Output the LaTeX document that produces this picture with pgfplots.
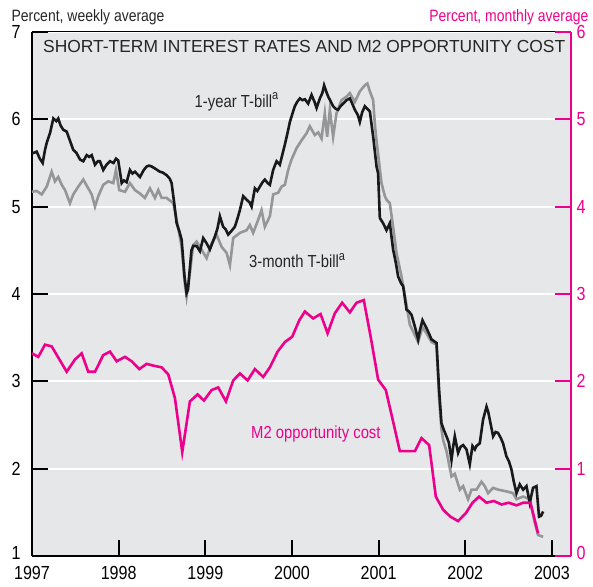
\documentclass[border=0pt]{standalone}
\usepackage{fontspec}
\setmainfont{Liberation Sans}
\newfontfamily\cond[FakeStretch=0.85]{Liberation Sans}
\usepackage{pgfplots}
\pgfplotsset{compat=1.18}
\definecolor{bgray}{RGB}{230,231,232}
\definecolor{lgray}{RGB}{150,150,150}
\definecolor{mpink}{RGB}{236,0,140}
\newcommand{\supa}{\raisebox{0.42em}{\fontsize{13}{13}\selectfont a}}
\begin{document}
\begin{tikzpicture}
\pgfplotsset{
  base/.style={
    scale only axis, width=539bp, height=524bp,
    xmin=1997, xmax=2003.22,
    tick align=inside,
    major tick length=16.5bp,
    /pgf/number format/assume math mode=true,
    ticklabel style={font=\cond\fontsize{19}{21}\selectfont},
    clip=false,
  }
}
\begin{axis}[base,
  ymin=1, ymax=7,
  axis background/.style={fill=bgray},
  axis x line*=bottom, axis y line*=left,
  axis line style={line width=2.2bp, black},
  xtick={1997,1998,1999,2000,2001,2002,2003},
  xticklabels={1997,1998,1999,2000,2001,2002,2003},
  xticklabel style={yshift=-7bp},
  ytick={1,2,3,4,5,6,7},
  yticklabels={\raisebox{7bp}{1},2,3,4,5,6,7},
  yticklabel style={xshift=-8bp},
  major tick style={line width=2.2bp, black},
  ymajorgrids, major grid style={white, line width=2.2bp},
]
\addplot[lgray, line width=2.6bp] coordinates {
(1997.000,5.17)(1997.054,5.18)(1997.112,5.14)(1997.170,5.23)(1997.227,5.40)(1997.265,5.29)(1997.303,5.34)(1997.343,5.25)(1997.381,5.19)(1997.438,5.04)(1997.476,5.14)(1997.534,5.23)(1997.592,5.31)(1997.649,5.21)(1997.689,5.14)(1997.727,5.00)(1997.765,5.12)(1997.822,5.25)(1997.880,5.29)(1997.938,5.27)(1997.969,5.42)(1998.007,5.19)(1998.073,5.17)(1998.130,5.27)(1998.188,5.19)(1998.246,5.15)(1998.303,5.10)(1998.361,5.21)(1998.419,5.10)(1998.457,5.19)(1998.496,5.10)(1998.554,5.10)(1998.630,5.04)(1998.669,4.85)(1998.727,4.54)(1998.760,4.15)(1998.784,3.97)(1998.822,4.24)(1998.860,4.56)(1998.900,4.60)(1998.938,4.54)(1999.015,4.41)(1999.073,4.58)(1999.130,4.68)(1999.188,4.54)(1999.246,4.47)(1999.284,4.33)(1999.322,4.64)(1999.399,4.70)(1999.476,4.73)(1999.514,4.79)(1999.552,4.70)(1999.610,4.85)(1999.649,4.96)(1999.687,4.77)(1999.745,4.89)(1999.783,5.14)(1999.841,5.16)(1999.880,5.23)(1999.918,5.25)(1999.956,5.42)(1999.995,5.54)(2000.053,5.67)(2000.111,5.76)(2000.168,5.84)(2000.206,5.92)(2000.264,5.82)(2000.303,5.85)(2000.341,5.78)(2000.379,6.07)(2000.406,5.80)(2000.437,6.11)(2000.475,5.80)(2000.514,6.07)(2000.572,6.22)(2000.630,6.26)(2000.668,6.30)(2000.725,6.20)(2000.783,6.32)(2000.841,6.39)(2000.870,6.41)(2000.899,6.32)(2000.937,6.22)(2000.956,5.95)(2000.976,5.75)(2000.994,5.60)(2001.033,5.27)(2001.072,5.12)(2001.091,5.08)(2001.129,5.04)(2001.167,4.77)(2001.206,4.47)(2001.264,4.20)(2001.300,4.00)(2001.360,3.65)(2001.456,3.45)(2001.506,3.62)(2001.552,3.55)(2001.610,3.45)(2001.668,3.42)(2001.698,2.80)(2001.725,2.45)(2001.744,2.33)(2001.783,2.20)(2001.841,1.91)(2001.879,1.94)(2001.937,1.76)(2001.975,1.80)(2002.032,1.65)(2002.072,1.76)(2002.129,1.76)(2002.187,1.85)(2002.225,1.80)(2002.263,1.72)(2002.321,1.78)(2002.378,1.76)(2002.475,1.74)(2002.551,1.72)(2002.591,1.65)(2002.667,1.68)(2002.744,1.65)(2002.802,1.38)(2002.840,1.24)(2002.898,1.22)
};
\addplot[black!90, line width=2.6bp] coordinates {
(1997.000,5.61)(1997.030,5.62)(1997.054,5.63)(1997.090,5.55)(1997.123,5.50)(1997.150,5.65)(1997.170,5.73)(1997.210,5.85)(1997.246,6.01)(1997.280,5.98)(1997.303,6.01)(1997.330,5.93)(1997.361,5.88)(1997.400,5.86)(1997.440,5.75)(1997.476,5.65)(1997.510,5.62)(1997.554,5.54)(1997.592,5.52)(1997.631,5.59)(1997.660,5.57)(1997.689,5.59)(1997.727,5.48)(1997.760,5.52)(1997.784,5.52)(1997.822,5.42)(1997.860,5.48)(1997.900,5.52)(1997.940,5.50)(1997.969,5.55)(1997.995,5.53)(1998.015,5.40)(1998.035,5.27)(1998.060,5.30)(1998.092,5.28)(1998.130,5.42)(1998.160,5.38)(1998.188,5.40)(1998.246,5.34)(1998.290,5.42)(1998.323,5.46)(1998.350,5.47)(1998.381,5.46)(1998.430,5.43)(1998.476,5.40)(1998.510,5.39)(1998.554,5.36)(1998.590,5.32)(1998.611,5.27)(1998.640,5.05)(1998.669,4.81)(1998.700,4.72)(1998.727,4.62)(1998.760,4.20)(1998.784,4.01)(1998.800,4.05)(1998.822,4.30)(1998.840,4.50)(1998.860,4.55)(1998.900,4.55)(1998.938,4.49)(1998.976,4.64)(1999.015,4.58)(1999.053,4.51)(1999.080,4.58)(1999.111,4.66)(1999.140,4.75)(1999.168,4.89)(1999.206,4.77)(1999.235,4.74)(1999.264,4.68)(1999.300,4.72)(1999.341,4.77)(1999.370,4.86)(1999.399,4.96)(1999.437,5.12)(1999.476,5.08)(1999.510,5.05)(1999.534,5.00)(1999.572,5.21)(1999.600,5.18)(1999.630,5.23)(1999.660,5.28)(1999.687,5.31)(1999.720,5.27)(1999.745,5.25)(1999.783,5.42)(1999.822,5.52)(1999.860,5.48)(1999.890,5.60)(1999.918,5.71)(1999.950,5.85)(1999.976,5.97)(2000.010,6.08)(2000.033,6.15)(2000.060,6.20)(2000.091,6.24)(2000.120,6.22)(2000.149,6.23)(2000.187,6.18)(2000.226,6.28)(2000.260,6.20)(2000.284,6.13)(2000.322,6.24)(2000.350,6.30)(2000.371,6.39)(2000.395,6.32)(2000.418,6.26)(2000.450,6.20)(2000.475,6.15)(2000.505,6.12)(2000.533,6.11)(2000.560,6.15)(2000.591,6.18)(2000.630,6.22)(2000.668,6.24)(2000.700,6.17)(2000.725,6.11)(2000.760,6.05)(2000.783,5.97)(2000.810,6.08)(2000.841,6.15)(2000.870,6.12)(2000.899,6.09)(2000.937,5.80)(2000.976,5.46)(2000.994,5.38)(2001.014,4.87)(2001.052,4.81)(2001.091,4.73)(2001.129,4.81)(2001.167,4.51)(2001.200,4.35)(2001.225,4.20)(2001.260,4.12)(2001.283,4.09)(2001.322,3.82)(2001.350,3.80)(2001.380,3.76)(2001.420,3.62)(2001.456,3.48)(2001.480,3.60)(2001.506,3.70)(2001.552,3.61)(2001.580,3.55)(2001.610,3.48)(2001.640,3.46)(2001.668,3.44)(2001.698,2.90)(2001.725,2.52)(2001.750,2.45)(2001.783,2.37)(2001.810,2.30)(2001.841,2.10)(2001.860,2.25)(2001.879,2.37)(2001.917,2.18)(2001.945,2.25)(2001.975,2.27)(2002.014,2.22)(2002.052,2.05)(2002.083,2.26)(2002.110,2.22)(2002.129,2.26)(2002.167,2.29)(2002.205,2.56)(2002.245,2.71)(2002.265,2.65)(2002.283,2.56)(2002.321,2.37)(2002.350,2.42)(2002.378,2.41)(2002.410,2.35)(2002.436,2.29)(2002.475,2.14)(2002.505,2.08)(2002.533,1.99)(2002.560,1.85)(2002.591,1.72)(2002.629,1.82)(2002.667,1.76)(2002.706,1.80)(2002.744,1.61)(2002.782,1.78)(2002.821,1.80)(2002.851,1.45)(2002.875,1.46)(2002.898,1.51)
};
\draw[black, line width=1bp] (rel axis cs:0,1) -- (rel axis cs:1,1);
\node[font=\fontsize{17.5}{19}\selectfont, text=black!85] at (rel axis cs:0.505,0.973) {SHORT-TERM INTEREST RATES AND M2 OPPORTUNITY COST};
\node[font=\cond\fontsize{17.5}{19}\selectfont, text=black!85] at (axis cs:1999.36,6.20) {1-year T-bill\supa};
\node[font=\cond\fontsize{17.5}{19}\selectfont, text=black!85] at (axis cs:2000.06,4.38) {3-month T-bill\supa};
\node[font=\cond\fontsize{17.5}{19}\selectfont, text=mpink] at (axis cs:2000.276,2.40) {M2 opportunity cost};
\end{axis}
\begin{axis}[base,
  ymin=0, ymax=6,
  axis x line=none, axis y line*=right,
  axis line style={line width=2.8bp, mpink},
  ytick={0,1,2,3,4,5,6},
  yticklabels={\raisebox{7bp}{0},1,2,3,4,5,6},
  yticklabel style={text=mpink, xshift=2bp},
  major tick style={line width=2.2bp, mpink},
]
\addplot[mpink, line width=2.6bp] coordinates {
(1997.000,2.32)(1997.073,2.28)(1997.150,2.42)(1997.227,2.40)(1997.400,2.11)(1997.496,2.25)(1997.573,2.32)(1997.649,2.11)(1997.727,2.11)(1997.822,2.30)(1997.900,2.34)(1997.977,2.23)(1998.073,2.28)(1998.150,2.23)(1998.238,2.14)(1998.323,2.20)(1998.399,2.18)(1998.496,2.16)(1998.572,2.08)(1998.649,1.81)(1998.734,1.19)(1998.822,1.77)(1998.911,1.85)(1998.984,1.78)(1999.073,1.90)(1999.149,1.93)(1999.238,1.77)(1999.322,2.01)(1999.399,2.09)(1999.488,2.01)(1999.572,2.14)(1999.668,2.05)(1999.745,2.16)(1999.834,2.34)(1999.918,2.45)(2000.002,2.51)(2000.085,2.70)(2000.149,2.80)(2000.244,2.72)(2000.330,2.77)(2000.411,2.55)(2000.495,2.78)(2000.579,2.90)(2000.668,2.79)(2000.745,2.90)(2000.829,2.93)(2000.910,2.50)(2000.994,2.02)(2001.083,1.90)(2001.167,1.54)(2001.245,1.20)(2001.325,1.20)(2001.418,1.20)(2001.495,1.35)(2001.583,1.27)(2001.660,0.68)(2001.744,0.53)(2001.829,0.45)(2001.917,0.40)(2002.006,0.49)(2002.083,0.61)(2002.159,0.68)(2002.245,0.61)(2002.329,0.63)(2002.418,0.59)(2002.502,0.61)(2002.591,0.58)(2002.667,0.61)(2002.752,0.61)(2002.840,0.26)
};
\end{axis}
\node[anchor=base west, font=\cond\fontsize{16.5}{19}\selectfont, text=black!85] at (-24bp,534bp) {Percent, weekly average};
\node[anchor=base east, font=\cond\fontsize{16.5}{19}\selectfont, text=mpink] at (560bp,534bp) {Percent, monthly average};
\pgfresetboundingbox
\useasboundingbox (-32bp,-31bp) rectangle (561bp,556bp);
\end{tikzpicture}
\end{document}
